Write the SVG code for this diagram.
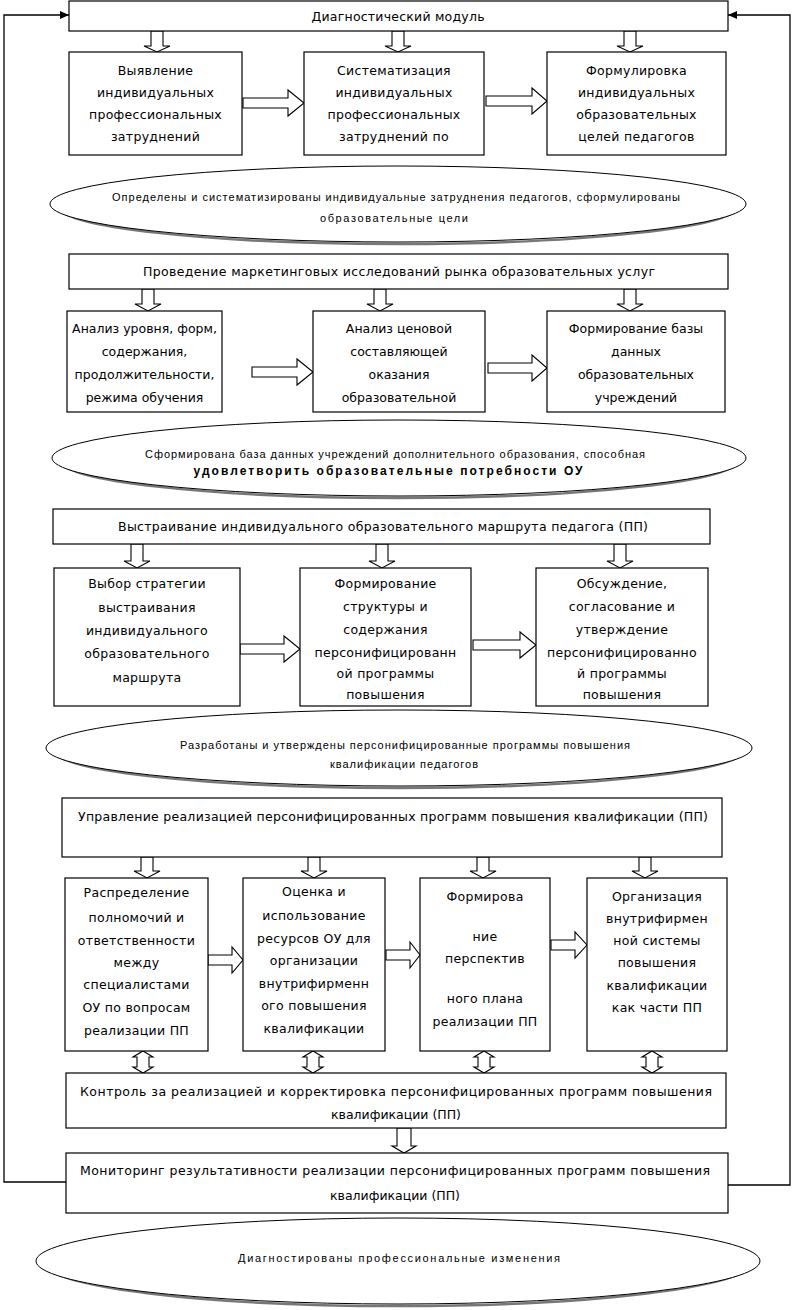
<svg xmlns="http://www.w3.org/2000/svg" width="794" height="1310" viewBox="0 0 794 1310">
<style>
.box{fill:#fff;stroke:#000;stroke-width:1.2}
.t{font-family:"DejaVu Sans",sans-serif;font-size:12.5px;text-anchor:middle;fill:#000}
.b{letter-spacing:0.3px}
.et{font-family:"Liberation Sans",sans-serif;font-size:11px;text-anchor:middle;fill:#000}
.eb{font-family:"Liberation Sans",sans-serif;font-size:12px;font-weight:bold;text-anchor:middle;fill:#000}
.arr{fill:#fff;stroke:#000;stroke-width:1.1}
.ell{fill:#fff;stroke:#000;stroke-width:1}
.sh{fill:none;stroke:#777;stroke-width:2.5}
.fb{fill:none;stroke:#000;stroke-width:1.3}
</style>
<defs>
<marker id="ah" markerWidth="9" markerHeight="8" refX="9" refY="4" orient="auto" markerUnits="userSpaceOnUse"><path d="M0,0 L9,4 L0,8 z" fill="#000"/></marker>
</defs>

<g id="connectors">
<polyline class="fb" points="66,1182 4,1182 4,15 69,15" marker-end="url(#ah)"/>
<polyline class="fb" points="728,1185 790,1185 790,15 728,15" marker-end="url(#ah)"/>
<polygon class="arr" points="151,31 163,31 163,46 170,46 157,52 144,46 151,46"/>
<polygon class="arr" points="392,31 404,31 404,46 411,46 398,52 385,46 392,46"/>
<polygon class="arr" points="624,31 636,31 636,46 643,46 630,52 617,46 624,46"/>
<polygon class="arr" points="243,98 288,98 288,90 304,103 288,116 288,108 243,108"/>
<polygon class="arr" points="486,96 532,96 532,88 547,101 532,114 532,106 486,106"/>
<polygon class="arr" points="142,289 154,289 154,304 161,304 148,311 135,304 142,304"/>
<polygon class="arr" points="374,289 386,289 386,304 393,304 380,311 367,304 374,304"/>
<polygon class="arr" points="624,289 636,289 636,304 643,304 630,311 617,304 624,304"/>
<polygon class="arr" points="252,367 297,367 297,359 313,372 297,385 297,377 252,377"/>
<polygon class="arr" points="488,363 532,363 532,355 547,368 532,381 532,373 488,373"/>
<polygon class="arr" points="131,544 143,544 143,561 150,561 137,568 124,561 131,561"/>
<polygon class="arr" points="376,544 388,544 388,561 395,561 382,568 369,561 376,561"/>
<polygon class="arr" points="614,544 626,544 626,561 633,561 620,568 607,561 614,561"/>
<polygon class="arr" points="240,644 284,644 284,636 300,649 284,662 284,654 240,654"/>
<polygon class="arr" points="473,640 520,640 520,632 536,645 520,658 520,650 473,650"/>
<polygon class="arr" points="141,857 153,857 153,871 160,871 147,878 134,871 141,871"/>
<polygon class="arr" points="308,857 320,857 320,871 327,871 314,878 301,871 308,871"/>
<polygon class="arr" points="477,857 489,857 489,871 496,871 483,878 470,871 477,871"/>
<polygon class="arr" points="639,857 651,857 651,871 658,871 645,878 632,871 639,871"/>
<polygon class="arr" points="208,955 232,955 232,947 243,960 232,973 232,965 208,965"/>
<polygon class="arr" points="386,950 410,950 410,942 420,955 410,968 410,960 386,960"/>
<polygon class="arr" points="551,940 575,940 575,932 587,945 575,958 575,950 551,950"/>
<polygon class="arr" points="143,1051 153,1057 149,1057 149,1067 153,1067 143,1073 133,1067 137,1067 137,1057 133,1057"/>
<polygon class="arr" points="313,1051 323,1057 319,1057 319,1067 323,1067 313,1073 303,1067 307,1067 307,1057 303,1057"/>
<polygon class="arr" points="484,1051 494,1057 490,1057 490,1067 494,1067 484,1073 474,1067 478,1067 478,1057 474,1057"/>
<polygon class="arr" points="652,1051 662,1057 658,1057 658,1067 662,1067 652,1073 642,1067 646,1067 646,1057 642,1057"/>
<polygon class="arr" points="397,1128 411,1128 411,1146 416,1146 404,1153 392,1146 397,1146"/>
</g>

<g id="n-diag"><rect class="box" x="69" y="1" width="659" height="30"/><text class="t" x="398" y="21" textLength="173">Диагностический модуль</text></g>

<g id="n-a1"><rect class="box" x="69" y="52" width="173" height="103"/>
<text class="t b" x="155.5" y="74.5">Выявление</text><text class="t b" x="155.5" y="96.5">индивидуальных</text><text class="t b" x="155.5" y="118.5">профессиональных</text><text class="t b" x="155.5" y="140.5">затруднений</text></g>
<g id="n-a2"><rect class="box" x="304" y="52" width="180" height="103"/>
<text class="t b" x="394" y="74.5">Систематизация</text><text class="t b" x="394" y="96.5">индивидуальных</text><text class="t b" x="394" y="118.5">профессиональных</text><text class="t b" x="394" y="140.5">затруднений по</text></g>
<g id="n-a3"><rect class="box" x="547" y="52" width="179" height="103"/>
<text class="t b" x="636.5" y="74.5">Формулировка</text><text class="t b" x="636.5" y="96.5">индивидуальных</text><text class="t b" x="636.5" y="118.5">образовательных</text><text class="t b" x="636.5" y="140.5">целей педагогов</text></g>

<g id="n-e1"><ellipse class="sh" cx="398" cy="206" rx="340" ry="38"/><ellipse class="ell" cx="398" cy="204" rx="348" ry="38"/>
<text class="et" x="396" y="201" textLength="568">Определены и систематизированы индивидуальные затруднения педагогов, сформулированы</text>
<text class="et" x="394" y="222" textLength="148">образовательные цели</text></g>

<g id="n-market"><rect class="box" x="69" y="254" width="659" height="35"/><text class="t" x="399" y="275.5" textLength="512">Проведение маркетинговых исследований рынка образовательных услуг</text></g>

<g id="n-b1"><rect class="box" x="67" y="311" width="155" height="101"/>
<text class="t" x="144.5" y="332.5">Анализ уровня, форм,</text><text class="t" x="144.5" y="355.5">содержания,</text><text class="t" x="144.5" y="378.5">продолжительности,</text><text class="t" x="144.5" y="401.5">режима обучения</text></g>
<g id="n-b2"><rect class="box" x="313" y="311" width="172" height="101"/>
<text class="t" x="399" y="332.5">Анализ ценовой</text><text class="t" x="399" y="355.5">составляющей</text><text class="t" x="399" y="378.5">оказания</text><text class="t" x="399" y="401.5">образовательной</text></g>
<g id="n-b3"><rect class="box" x="547" y="311" width="178" height="101"/>
<text class="t" x="636" y="332.5">Формирование базы</text><text class="t" x="636" y="355.5">данных</text><text class="t" x="636" y="378.5">образовательных</text><text class="t" x="636" y="401.5">учреждений</text></g>

<g id="n-e2"><ellipse class="sh" cx="399" cy="460" rx="339" ry="38"/><ellipse class="ell" cx="399" cy="458" rx="347" ry="38"/>
<text class="et" x="395" y="458" textLength="500">Сформирована база данных учреждений дополнительного образования, способная</text>
<text class="eb" x="388" y="474.5" textLength="389">удовлетворить образовательные потребности ОУ</text></g>

<g id="n-route"><rect class="box" x="53" y="509" width="657" height="35"/><text class="t" x="383" y="530.5" textLength="530">Выстраивание индивидуального образовательного маршрута педагога (ПП)</text></g>

<g id="n-c1"><rect class="box" x="54" y="568" width="186" height="138"/>
<text class="t b" x="147" y="587.5">Выбор стратегии</text><text class="t b" x="147" y="611.5">выстраивания</text><text class="t b" x="147" y="634.5">индивидуального</text><text class="t b" x="147" y="657.5">образовательного</text><text class="t b" x="147" y="681.5">маршрута</text></g>
<g id="n-c2"><rect class="box" x="300" y="568" width="171" height="138"/>
<text class="t b" x="385.5" y="587.5">Формирование</text><text class="t b" x="385.5" y="610.5">структуры и</text><text class="t b" x="385.5" y="633.5">содержания</text><text class="t b" x="385.5" y="656.5">персонифицированн</text><text class="t b" x="385.5" y="677.5">ой программы</text><text class="t b" x="385.5" y="698.5">повышения</text></g>
<g id="n-c3"><rect class="box" x="536" y="568" width="172" height="138"/>
<text class="t b" x="622" y="587.5">Обсуждение,</text><text class="t b" x="622" y="610.5">согласование и</text><text class="t b" x="622" y="633.5">утверждение</text><text class="t b" x="622" y="656.5">персонифицированно</text><text class="t b" x="622" y="677.5">й программы</text><text class="t b" x="622" y="698.5">повышения</text></g>

<g id="n-e3"><ellipse class="sh" cx="399" cy="750" rx="345" ry="38"/><ellipse class="ell" cx="399" cy="748" rx="353" ry="38"/>
<text class="et" x="405" y="748.7" textLength="450">Разработаны и утверждены персонифицированные программы повышения</text>
<text class="et" x="404" y="767.7" textLength="148">квалификации педагогов</text></g>

<g id="n-manage"><rect class="box" x="62" y="798" width="660" height="59"/><text class="t" x="393" y="820.5" textLength="630">Управление реализацией персонифицированных программ повышения квалификации (ПП)</text></g>

<g id="n-d1"><rect class="box" x="65" y="878" width="143" height="173"/>
<text class="t b" x="136.5" y="896.5">Распределение</text><text class="t b" x="136.5" y="921.5">полномочий и</text><text class="t b" x="136.5" y="944.5">ответственности</text><text class="t b" x="136.5" y="966.5">между</text><text class="t b" x="136.5" y="988.5">специалистами</text><text class="t b" x="136.5" y="1011.5">ОУ по вопросам</text><text class="t b" x="136.5" y="1034.5">реализации ПП</text></g>
<g id="n-d2"><rect class="box" x="243" y="878" width="142" height="173"/>
<text class="t b" x="314" y="895.5">Оценка и</text><text class="t b" x="314" y="919.5">использование</text><text class="t b" x="314" y="942.5">ресурсов ОУ для</text><text class="t b" x="314" y="964.5">организации</text><text class="t b" x="314" y="987.5">внутрифирменн</text><text class="t b" x="314" y="1009.5">ого повышения</text><text class="t b" x="314" y="1032.5">квалификации</text></g>
<g id="n-d3"><rect class="box" x="420" y="878" width="130" height="173"/>
<text class="t b" x="485" y="900.5">Формирова</text><text class="t b" x="485" y="940.5">ние</text><text class="t b" x="485" y="962.5">перспектив</text><text class="t b" x="485" y="1002.5">ного плана</text><text class="t b" x="485" y="1025.5">реализации ПП</text></g>
<g id="n-d4"><rect class="box" x="587" y="878" width="140" height="173"/>
<text class="t b" x="657" y="900.5">Организация</text><text class="t b" x="657" y="922.5">внутрифирмен</text><text class="t b" x="657" y="944.5">ной системы</text><text class="t b" x="657" y="966.5">повышения</text><text class="t b" x="657" y="989.5">квалификации</text><text class="t b" x="657" y="1011.5">как части ПП</text></g>

<g id="n-control"><rect class="box" x="66" y="1073" width="660" height="55"/>
<text class="t" x="396" y="1095.5" textLength="632">Контроль за реализацией и корректировка персонифицированных программ повышения</text>
<text class="t" x="396" y="1118.5">квалификации (ПП)</text></g>

<g id="n-monitor"><rect class="box" x="66" y="1153" width="662" height="60"/>
<text class="t" x="395" y="1174.5" textLength="630">Мониторинг результативности реализации персонифицированных программ повышения</text>
<text class="t" x="395" y="1199.5">квалификации (ПП)</text></g>

<g id="n-e4"><ellipse class="sh" cx="398" cy="1263" rx="352" ry="43"/><ellipse class="ell" cx="398" cy="1261" rx="362" ry="43"/>
<text class="et" x="399" y="1262" textLength="322">Диагностированы профессиональные изменения</text></g>
</svg>
